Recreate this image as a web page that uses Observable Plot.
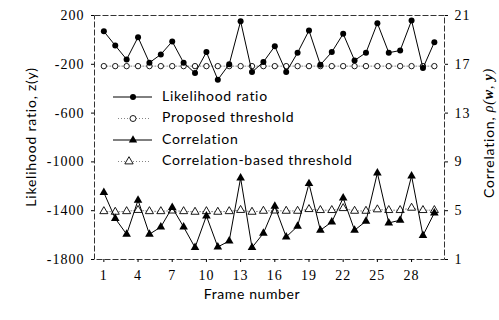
<!DOCTYPE html>
<html>
<head>
<meta charset="utf-8">
<script src="https://cdn.jsdelivr.net/npm/d3@7"></script>
<script src="https://cdn.jsdelivr.net/npm/@observablehq/plot@0.6"></script>
<style>
  html, body { margin: 0; padding: 0; background: #fff; }
  #chart svg { display: block; }
</style>
</head>
<body>
<div id="chart"></div>
<script>
// ---- data ----
const frames = [1,2,3,4,5,6,7,8,9,10,11,12,13,14,15,16,17,18,19,20,21,22,23,24,25,26,27,28,29,30];
const likelihood = [70,-46,-160,22,-187,-119,-13,-187,-272,-100,-326,-200,153,-264,-181,-52,-264,-105,77,-204,-100,50,-168,-105,137,-105,-87,159,-231,-19];
const proposedThreshold = [-215,-215,-215,-215,-215,-215,-215,-215,-215,-215,-215,-215,-215,-215,-215,-215,-215,-215,-215,-215,-215,-215,-215,-215,-215,-215,-215,-215,-215,-215];
const correlation = [6.49,4.36,3.07,5.86,3.07,3.67,5.26,3.67,1.98,4.57,2.03,2.52,7.68,1.98,3.15,5.36,2.85,3.73,7.22,3.40,4.08,6.04,3.40,4.14,8.09,4.0,4.22,7.85,2.97,4.82];
const correlationThreshold = [4.95,4.9,4.95,5.05,4.95,4.95,5.0,4.95,4.9,4.95,4.9,4.95,5.05,4.9,4.98,5.0,4.98,4.98,5.12,5.04,5.04,5.2,4.98,4.98,5.1,5.04,5.04,5.23,5.04,5.04];
const xTicks = [1,4,7,10,13,16,19,22,25,28];
const leftTicks = [200,-200,-600,-1000,-1400,-1800];
const rightTicks = [21,17,13,9,5,1];
const legendLabels = ["Likelihood ratio","Proposed threshold","Correlation","Correlation-based threshold"];

// right axis (correlation, 1..21) mapped onto the left scale (-1800..200)
const c2y = c => (c - 1) * 100 - 1800;
const y2c = y => (y + 1800) / 100 + 1;

const lr = frames.map((f, i) => ({f, v: likelihood[i]}));
const lrT = frames.map((f, i) => ({f, v: proposedThreshold[i]}));
const co = frames.map((f, i) => ({f, v: c2y(correlation[i])}));
const coT = frames.map((f, i) => ({f, v: c2y(correlationThreshold[i])}));

const serif = "'Liberation Serif', 'Times New Roman', serif";
const sans = "Lato, 'Open Sans', sans-serif";

const plot = Plot.plot({
  width: 499,
  height: 320,
  marginLeft: 94,
  marginRight: 55,
  marginTop: 15,
  marginBottom: 61,
  style: {fontFamily: serif, fontSize: "14px", color: "#000", background: "#fff"},
  x: {domain: [0.18, 30.89]},
  y: {domain: [-1800, 200]},
  marks: [
    Plot.frame({stroke: "#333", strokeWidth: 1, strokeDasharray: "6,2"}),
    Plot.axisX({ticks: xTicks, tickFormat: d => String(d), tickSize: 3, tickPadding: 8, label: null}),
    Plot.axisY({anchor: "left", ticks: leftTicks, tickFormat: d => String(d), tickSize: 3, tickPadding: 7, label: null}),
    Plot.axisY({anchor: "right", ticks: rightTicks.map(c2y), tickFormat: d => String(Math.round(y2c(d))), tickSize: 3, tickPadding: 7, label: null}),
    // likelihood threshold
    Plot.line(lrT, {x: "f", y: "v", stroke: "#666", strokeWidth: 0.8, strokeDasharray: "1,2"}),
    Plot.dot(lrT, {x: "f", y: "v", r: 2.7, fill: "#fff", stroke: "#000", strokeWidth: 0.9}),
    // likelihood ratio
    Plot.line(lr, {x: "f", y: "v", stroke: "#000", strokeWidth: 1}),
    Plot.dot(lr, {x: "f", y: "v", r: 3, fill: "#000"}),
    // correlation threshold
    Plot.line(coT, {x: "f", y: "v", stroke: "#666", strokeWidth: 0.8, strokeDasharray: "1,2"}),
    Plot.dot(coT, {x: "f", y: "v", symbol: "triangle", r: 3, fill: "#fff", stroke: "#000", strokeWidth: 0.9}),
    // correlation
    Plot.line(co, {x: "f", y: "v", stroke: "#000", strokeWidth: 1}),
    Plot.dot(co, {x: "f", y: "v", symbol: "triangle", r: 3.2, fill: "#000"})
  ]
});

document.getElementById("chart").appendChild(plot);

const svg = d3.select(plot);
// serif tick labels
svg.selectAll("g[aria-label$='tick label']")
  .attr("font-family", serif)
  .style("font-family", serif)
  .style("font-size", "14px")
  .style("letter-spacing", "1px");
svg.selectAll("g[aria-label$='tick label'] text")
  .style("font-family", serif);

// ---- titles and legend ----
const g = svg.append("g").attr("font-family", sans).attr("fill", "#000");

g.append("text")
  .attr("transform", "translate(32,137) rotate(-90)")
  .attr("text-anchor", "middle").attr("dominant-baseline", "middle")
  .attr("font-size", 14).attr("letter-spacing", "0.8px")
  .text("Likelihood ratio, z(y)");

const rl = g.append("text")
  .attr("transform", "translate(490,133) rotate(-90)")
  .attr("text-anchor", "middle").attr("dominant-baseline", "middle")
  .attr("font-size", 14).attr("letter-spacing", "0.8px");
rl.append("tspan").text("Correlation, ");
rl.append("tspan").attr("font-family", serif).attr("font-style", "italic").text("ρ(");
rl.append("tspan").attr("font-family", serif).attr("font-style", "italic").attr("font-weight", "bold").text("w");
rl.append("tspan").attr("font-family", serif).attr("font-style", "italic").text(", ");
rl.append("tspan").attr("font-family", serif).attr("font-style", "italic").attr("font-weight", "bold").text("y");
rl.append("tspan").attr("font-family", serif).attr("font-style", "italic").text(")");

g.append("text")
  .attr("x", 252).attr("y", 295)
  .attr("text-anchor", "middle").attr("dominant-baseline", "middle")
  .attr("font-size", 14).attr("letter-spacing", "0.6px")
  .text("Frame number");

// legend
const legY = [97, 118.5, 140, 161.5];
const lg = svg.append("g");
legendLabels.forEach((lab, i) => {
  const y = legY[i];
  const dotted = i === 1 || i === 3;
  lg.append("line")
    .attr("x1", dotted ? 118 : 113).attr("x2", dotted ? 150 : 152)
    .attr("y1", y).attr("y2", y)
    .attr("stroke", dotted ? "#666" : "#000")
    .attr("stroke-width", dotted ? 0.8 : 1)
    .attr("stroke-dasharray", dotted ? "1,2" : null);
  const sym = (i < 2) ? d3.symbolCircle : d3.symbolTriangle;
  const size = (i < 2) ? Math.PI * 3 * 3 : 30;
  lg.append("path")
    .attr("d", d3.symbol(sym, size)())
    .attr("transform", `translate(${i === 3 ? 129 : 133},${y})`)
    .attr("fill", (i === 0 || i === 2) ? "#000" : "#fff")
    .attr("stroke", "#000").attr("stroke-width", (i === 0 || i === 2) ? 0 : 0.9);
  lg.append("text")
    .attr("x", 162).attr("y", y)
    .attr("text-anchor", "start")
    .attr("dominant-baseline", "middle")
    .attr("font-family", sans).attr("font-size", 14).attr("letter-spacing", "0.7px")
    .text(lab);
});
</script>
</body>
</html>
